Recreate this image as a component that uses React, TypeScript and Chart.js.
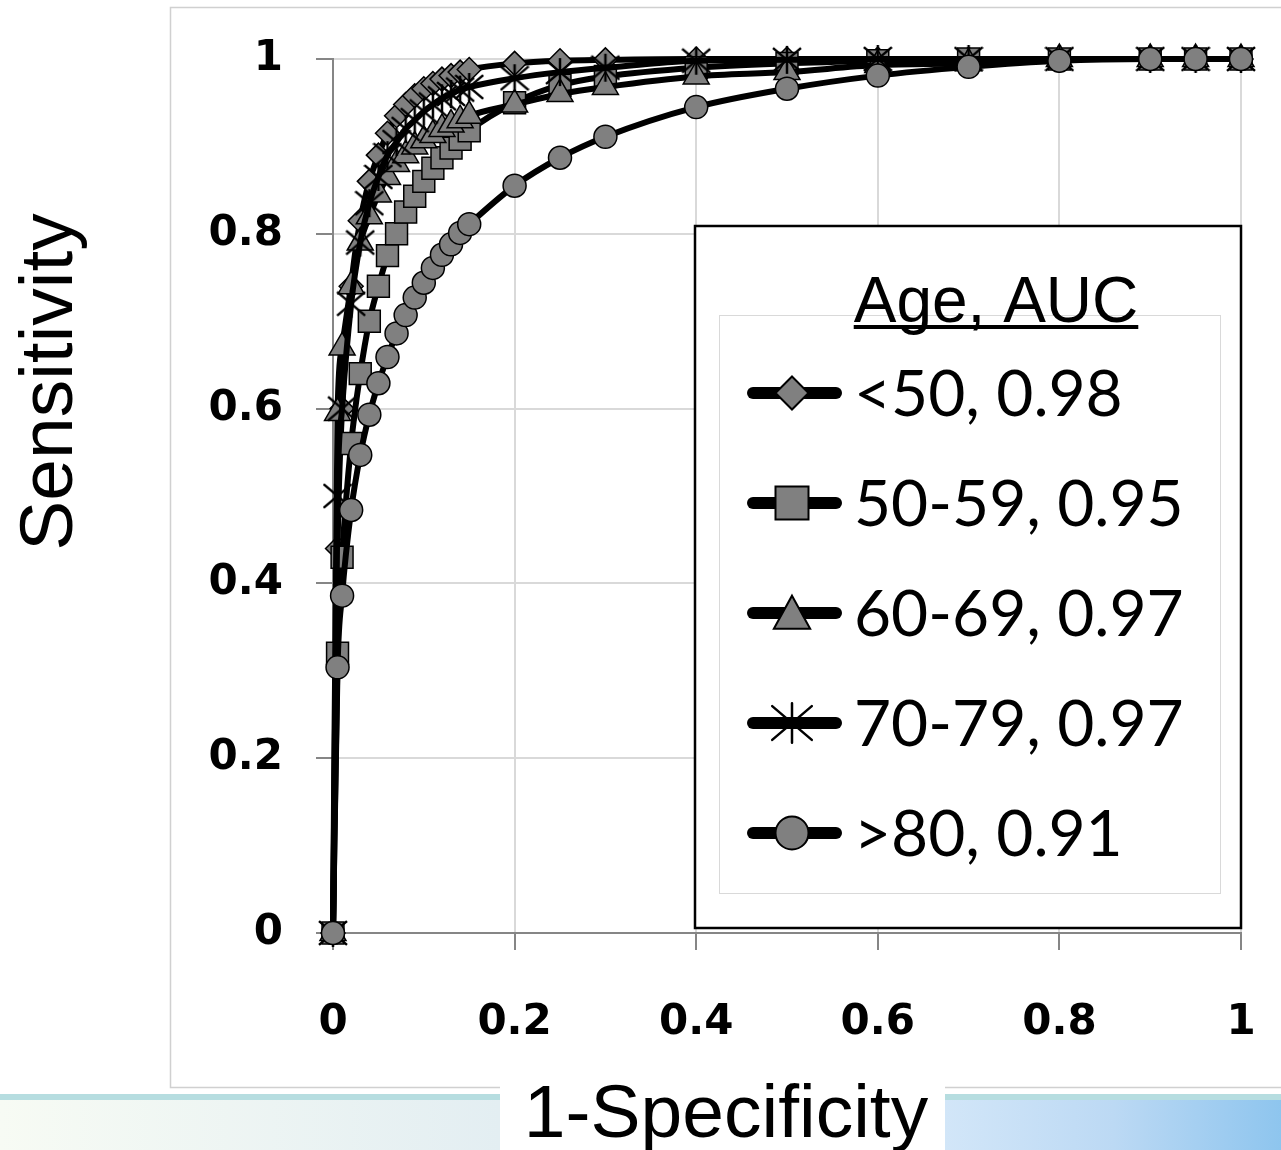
import React, { useEffect, useRef } from 'react';
import { Chart, registerables } from 'chart.js';

Chart.register(...registerables);

// ---------- data ----------
const FPR = [0, 0.005, 0.01, 0.02, 0.03, 0.04, 0.05, 0.06, 0.07, 0.08, 0.09, 0.1, 0.11, 0.12, 0.13, 0.14, 0.15, 0.2, 0.25, 0.3, 0.4, 0.5, 0.6, 0.7, 0.8, 0.9, 0.95, 1];
const SENS_LT50 = [0, 0.44, 0.6, 0.74, 0.815, 0.86, 0.89, 0.915, 0.935, 0.948, 0.958, 0.966, 0.972, 0.977, 0.981, 0.985, 0.988, 0.995, 0.998, 0.999, 1, 1, 1, 1, 1, 1, 1, 1];
const SENS_50_59 = [0, 0.32, 0.43, 0.56, 0.64, 0.7, 0.74, 0.775, 0.8, 0.825, 0.843, 0.86, 0.875, 0.887, 0.898, 0.908, 0.918, 0.95, 0.97, 0.98, 0.99, 0.995, 0.998, 1, 1, 1, 1, 1];
const SENS_60_69 = [0, 0.595, 0.67, 0.74, 0.79, 0.82, 0.845, 0.865, 0.88, 0.89, 0.9, 0.907, 0.913, 0.92, 0.925, 0.93, 0.935, 0.948, 0.96, 0.968, 0.98, 0.985, 0.993, 0.995, 1, 1, 1, 1];
const SENS_70_79 = [0, 0.5, 0.6, 0.72, 0.79, 0.835, 0.865, 0.89, 0.905, 0.92, 0.93, 0.94, 0.948, 0.955, 0.96, 0.965, 0.968, 0.978, 0.985, 0.99, 0.998, 0.999, 1, 1, 1, 1, 1, 1];
const SENS_GT80 = [0, 0.304, 0.386, 0.484, 0.547, 0.593, 0.629, 0.659, 0.686, 0.707, 0.727, 0.744, 0.761, 0.776, 0.788, 0.801, 0.811, 0.855, 0.887, 0.911, 0.945, 0.966, 0.981, 0.991, 0.998, 1, 1, 1];

const SERIES_LABELS = ['<50, 0.98', '50-59, 0.95', '60-69, 0.97', '70-79, 0.97', '>80, 0.91'];
const SERIES_VALUES = [SENS_LT50, SENS_50_59, SENS_60_69, SENS_70_79, SENS_GT80];
const LEGEND_TITLE = 'Age, AUC';
const X_TITLE = '1-Specificity';
const Y_TITLE = 'Sensitivity';
const AXIS_MIN = 0;
const AXIS_MAX = 1;
const AXIS_STEP = 0.2;

// ---------- styles ----------
const W = 1281;
const H = 1150;
const FILL = '#808080';
const MARKERS = ['diamond', 'square', 'triangle', 'asterisk', 'circle'];

function drawAsterisk(ctx: CanvasRenderingContext2D, x: number, y: number, r: number, lw: number) {
  ctx.save();
  ctx.strokeStyle = '#000';
  ctx.lineWidth = lw;
  ctx.beginPath();
  ctx.moveTo(x, y - r);
  ctx.lineTo(x, y + r);
  ctx.moveTo(x - r, y - r * 0.85);
  ctx.lineTo(x + r, y + r * 0.85);
  ctx.moveTo(x + r, y - r * 0.85);
  ctx.lineTo(x - r, y + r * 0.85);
  ctx.stroke();
  ctx.restore();
}

function makeAsteriskImage(size: number, lw: number) {
  const c = document.createElement('canvas');
  c.width = size;
  c.height = size;
  const g = c.getContext('2d') as CanvasRenderingContext2D;
  drawAsterisk(g, size / 2, size / 2, size / 2 - 1, lw);
  return c;
}

function drawMarker(ctx: CanvasRenderingContext2D, kind: string, x: number, y: number, s: number) {
  ctx.save();
  ctx.fillStyle = FILL;
  ctx.strokeStyle = '#000';
  ctx.lineWidth = 2;
  ctx.beginPath();
  if (kind === 'diamond') {
    ctx.moveTo(x, y - s);
    ctx.lineTo(x + s, y);
    ctx.lineTo(x, y + s);
    ctx.lineTo(x - s, y);
    ctx.closePath();
  } else if (kind === 'square') {
    ctx.rect(x - s, y - s, 2 * s, 2 * s);
  } else if (kind === 'triangle') {
    ctx.moveTo(x, y - s * 1.05);
    ctx.lineTo(x + s * 1.1, y + s * 0.95);
    ctx.lineTo(x - s * 1.1, y + s * 0.95);
    ctx.closePath();
  } else if (kind === 'circle') {
    ctx.arc(x, y, s, 0, Math.PI * 2);
  }
  if (kind === 'asterisk') {
    ctx.restore();
    drawAsterisk(ctx, x, y, s * 1.2, 2.5);
    return;
  }
  ctx.fill();
  ctx.stroke();
  ctx.restore();
}

const fmtTick = (v: any) => String(Number(Number(v).toFixed(1)));

const decorPlugin = {
  id: 'decor',
  beforeDraw(chart: any) {
    const ctx: CanvasRenderingContext2D = chart.ctx;
    ctx.save();
    ctx.fillStyle = '#ffffff';
    ctx.fillRect(0, 0, W, H);
    // bottom decorative strip
    const lg = ctx.createLinearGradient(0, 0, 500, 0);
    lg.addColorStop(0, '#f7fbf4');
    lg.addColorStop(1, '#e3eef2');
    ctx.fillStyle = lg;
    ctx.fillRect(0, 1100, 500, 50);
    const rg = ctx.createLinearGradient(945, 0, W, 0);
    rg.addColorStop(0, '#d2e6f8');
    rg.addColorStop(0.5, '#bcd9f4');
    rg.addColorStop(1, '#8ec5ee');
    ctx.fillStyle = rg;
    ctx.fillRect(945, 1100, W - 945, 50);
    ctx.fillStyle = '#b6dde0';
    ctx.fillRect(0, 1094, W, 6);
    // outer chart border
    ctx.strokeStyle = '#d0d0d0';
    ctx.lineWidth = 1.5;
    ctx.beginPath();
    ctx.moveTo(W + 2, 7.5);
    ctx.lineTo(170.5, 7.5);
    ctx.lineTo(170.5, 1087.5);
    ctx.lineTo(W + 2, 1087.5);
    ctx.stroke();
    ctx.restore();
  },
  afterDraw(chart: any) {
    const ctx: CanvasRenderingContext2D = chart.ctx;
    ctx.save();
    // x title box + text
    ctx.fillStyle = '#ffffff';
    ctx.fillRect(500, 1080, 445, 70);
    ctx.fillStyle = '#000';
    ctx.font = '75px "Liberation Sans", Arial, sans-serif';
    ctx.textAlign = 'center';
    ctx.textBaseline = 'alphabetic';
    ctx.fillText(X_TITLE, 726, 1137);
    // y title
    ctx.save();
    ctx.translate(72, 382);
    ctx.rotate(-Math.PI / 2);
    ctx.fillText(Y_TITLE, 0, 0);
    ctx.restore();

    // legend
    ctx.fillStyle = '#ffffff';
    ctx.fillRect(695, 226, 546, 702);
    ctx.strokeStyle = '#000';
    ctx.lineWidth = 2.5;
    ctx.strokeRect(695, 226, 546, 702);
    ctx.strokeStyle = '#d9d9d9';
    ctx.lineWidth = 1;
    ctx.strokeRect(719.5, 315.5, 501, 578);
    // legend title
    ctx.fillStyle = '#000';
    ctx.font = '64px "Liberation Sans", Arial, sans-serif';
    ctx.textAlign = 'center';
    ctx.fillText(LEGEND_TITLE, 996, 322);
    const tw = ctx.measureText(LEGEND_TITLE).width;
    ctx.fillRect(996 - tw / 2, 325, tw, 4);
    // legend rows
    ctx.font = '64px Lato, "Open Sans", sans-serif';
    ctx.textAlign = 'left';
    ctx.textBaseline = 'middle';
    for (let i = 0; i < SERIES_LABELS.length; i++) {
      const cy = 393 + i * 110;
      ctx.strokeStyle = '#000';
      ctx.lineWidth = 12;
      ctx.lineCap = 'round';
      ctx.beginPath();
      ctx.moveTo(753, cy);
      ctx.lineTo(836, cy);
      ctx.stroke();
      drawMarker(ctx, MARKERS[i], 792, cy, 16.5);
      ctx.fillStyle = '#000';
      ctx.fillText(SERIES_LABELS[i], 854, cy + 2);
    }
    ctx.restore();
  },
};

export default function App() {
  const ref = useRef<HTMLCanvasElement | null>(null);

  useEffect(() => {
    if (!ref.current) return;
    const asterisk = makeAsteriskImage(30, 2.5);
    const pointStyles: any[] = ['rectRot', 'rect', 'triangle', asterisk, 'circle'];
    const radii = [12, 15.5, 15, 15, 11.5];

    const datasets = SERIES_LABELS.map((label, i) => ({
      label,
      data: FPR.map((x, j) => ({ x, y: SERIES_VALUES[i][j] })),
      borderColor: '#000',
      borderWidth: 6,
      backgroundColor: FILL,
      pointStyle: pointStyles[i],
      pointRadius: radii[i],
      pointBackgroundColor: FILL,
      pointBorderColor: '#000',
      pointBorderWidth: 1.5,
      cubicInterpolationMode: 'monotone' as const,
      fill: false,
      clip: false as any,
      order: SERIES_LABELS.length - 1 - i,
    }));

    const tickFont = { family: '"DejaVu Sans", Verdana, sans-serif', size: 42, weight: 'bold' as const };

    const chart = new Chart(ref.current, {
      type: 'line',
      data: { datasets },
      options: {
        animation: false,
        responsive: false,
        layout: { padding: { top: 59, right: 40, left: 0, bottom: 0 } },
        plugins: {
          legend: { display: false },
          tooltip: { enabled: false },
          title: { display: false },
        },
        scales: {
          x: {
            type: 'linear',
            min: AXIS_MIN,
            max: AXIS_MAX,
            ticks: { stepSize: AXIS_STEP, font: tickFont, color: '#000', padding: 48, maxRotation: 0, callback: fmtTick },
            grid: { color: '#d9d9d9', lineWidth: 2, tickLength: 17, tickColor: '#868686', tickWidth: 2 },
            border: { color: '#868686', width: 2 },
            afterFit: (s: any) => { s.height = H - 933; s.paddingLeft = 0; s.paddingRight = 0; },
          },
          y: {
            type: 'linear',
            min: AXIS_MIN,
            max: AXIS_MAX,
            ticks: { stepSize: AXIS_STEP, font: tickFont, color: '#000', padding: 33, callback: fmtTick },
            grid: { color: '#d9d9d9', lineWidth: 2, tickLength: 17, tickColor: '#868686', tickWidth: 2 },
            border: { color: '#868686', width: 2 },
            afterFit: (s: any) => { s.width = 333; s.paddingTop = 0; s.paddingBottom = 0; },
          },
        },
      },
      plugins: [decorPlugin],
    });
    return () => chart.destroy();
  }, []);

  return (
    <div style={{ position: 'fixed', left: 0, top: 0, width: W, height: H, background: '#fff' }}>
      <canvas ref={ref} width={W} height={H} style={{ width: W, height: H, display: 'block' }} />
    </div>
  );
}
